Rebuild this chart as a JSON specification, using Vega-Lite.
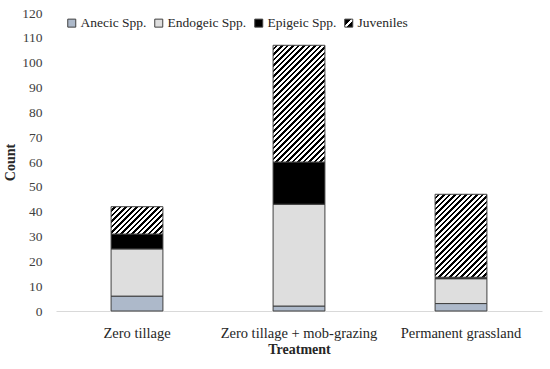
{
 "$schema": "https://vega.github.io/schema/vega-lite/v6.json",
 "width": 486,
 "height": 298,
 "autosize": {"type": "none"},
 "padding": {"left": 56, "top": 13, "right": 8, "bottom": 58},
 "config": {"font": "Liberation Serif", "view": {"stroke": null},
  "axis": {"labelFont": "Liberation Serif", "titleFont": "Liberation Serif"},
  "legend": {"labelFont": "Liberation Serif", "titleFont": "Liberation Serif"}},
 "data": {"values": [
  {"treatment": "Zero tillage", "type": "Anecic Spp.", "ord": 1, "count": 6},
  {"treatment": "Zero tillage", "type": "Endogeic Spp.", "ord": 2, "count": 19},
  {"treatment": "Zero tillage", "type": "Epigeic Spp.", "ord": 3, "count": 6},
  {"treatment": "Zero tillage", "type": "Juveniles", "ord": 4, "count": 11},
  {"treatment": "Zero tillage + mob-grazing", "type": "Anecic Spp.", "ord": 1, "count": 2},
  {"treatment": "Zero tillage + mob-grazing", "type": "Endogeic Spp.", "ord": 2, "count": 41},
  {"treatment": "Zero tillage + mob-grazing", "type": "Epigeic Spp.", "ord": 3, "count": 17},
  {"treatment": "Zero tillage + mob-grazing", "type": "Juveniles", "ord": 4, "count": 47},
  {"treatment": "Permanent grassland", "type": "Anecic Spp.", "ord": 1, "count": 3},
  {"treatment": "Permanent grassland", "type": "Endogeic Spp.", "ord": 2, "count": 10},
  {"treatment": "Permanent grassland", "type": "Epigeic Spp.", "ord": 3, "count": 0.6},
  {"treatment": "Permanent grassland", "type": "Juveniles", "ord": 4, "count": 33.4}
 ]},
 "mark": {"type": "bar", "stroke": "#404040", "strokeWidth": 1},
 "encoding": {
  "x": {"field": "treatment", "type": "nominal",
   "sort": ["Zero tillage", "Zero tillage + mob-grazing", "Permanent grassland"],
   "scale": {"paddingInner": 0.68, "paddingOuter": 0.34},
   "axis": {"title": "Treatment", "labelAngle": 0, "labelFontSize": 14.5, "labelColor": "#262626", "ticks": false, "domainColor": "#d9d9d9", "labelPadding": 15, "titleFontSize": 14, "titleFontWeight": "bold", "titlePadding": 3, "titleColor": "#262626"}},
  "y": {"field": "count", "type": "quantitative", "stack": "zero",
   "scale": {"domain": [0, 120], "nice": false},
   "axis": {"title": "Count", "values": [0,10,20,30,40,50,60,70,80,90,100,110,120], "grid": false, "domain": false, "ticks": false, "labelPadding": 14, "labelFontSize": 13.5, "labelColor": "#404040", "titleFontSize": 14, "titleFontWeight": "bold", "titleColor": "#262626", "titlePadding": 4}},
  "order": {"field": "ord", "type": "quantitative"},
  "fill": {
   "condition": [
    {"test": "datum.type === 'Juveniles' && datum.treatment === 'Zero tillage'",
     "value": {"gradient": "linear", "x1": 0, "y1": 0, "x2": 1.329, "y2": 0.7, "stops": [
      {"offset": 0, "color": "#ffffff"},
      {"offset": 0.03125, "color": "#ffffff"}, {"offset": 0.03125, "color": "#000000"},
      {"offset": 0.0625, "color": "#000000"}, {"offset": 0.0625, "color": "#ffffff"},
      {"offset": 0.09375, "color": "#ffffff"}, {"offset": 0.09375, "color": "#000000"},
      {"offset": 0.125, "color": "#000000"}, {"offset": 0.125, "color": "#ffffff"},
      {"offset": 0.15625, "color": "#ffffff"}, {"offset": 0.15625, "color": "#000000"},
      {"offset": 0.1875, "color": "#000000"}, {"offset": 0.1875, "color": "#ffffff"},
      {"offset": 0.21875, "color": "#ffffff"}, {"offset": 0.21875, "color": "#000000"},
      {"offset": 0.25, "color": "#000000"}, {"offset": 0.25, "color": "#ffffff"},
      {"offset": 0.28125, "color": "#ffffff"}, {"offset": 0.28125, "color": "#000000"},
      {"offset": 0.3125, "color": "#000000"}, {"offset": 0.3125, "color": "#ffffff"},
      {"offset": 0.34375, "color": "#ffffff"}, {"offset": 0.34375, "color": "#000000"},
      {"offset": 0.375, "color": "#000000"}, {"offset": 0.375, "color": "#ffffff"},
      {"offset": 0.40625, "color": "#ffffff"}, {"offset": 0.40625, "color": "#000000"},
      {"offset": 0.4375, "color": "#000000"}, {"offset": 0.4375, "color": "#ffffff"},
      {"offset": 0.46875, "color": "#ffffff"}, {"offset": 0.46875, "color": "#000000"},
      {"offset": 0.5, "color": "#000000"}, {"offset": 0.5, "color": "#ffffff"},
      {"offset": 0.53125, "color": "#ffffff"}, {"offset": 0.53125, "color": "#000000"},
      {"offset": 0.5625, "color": "#000000"}, {"offset": 0.5625, "color": "#ffffff"},
      {"offset": 0.59375, "color": "#ffffff"}, {"offset": 0.59375, "color": "#000000"},
      {"offset": 0.625, "color": "#000000"}, {"offset": 0.625, "color": "#ffffff"},
      {"offset": 0.65625, "color": "#ffffff"}, {"offset": 0.65625, "color": "#000000"},
      {"offset": 0.6875, "color": "#000000"}, {"offset": 0.6875, "color": "#ffffff"},
      {"offset": 0.71875, "color": "#ffffff"}, {"offset": 0.71875, "color": "#000000"},
      {"offset": 0.75, "color": "#000000"}, {"offset": 0.75, "color": "#ffffff"},
      {"offset": 0.78125, "color": "#ffffff"}, {"offset": 0.78125, "color": "#000000"},
      {"offset": 0.8125, "color": "#000000"}, {"offset": 0.8125, "color": "#ffffff"},
      {"offset": 0.84375, "color": "#ffffff"}, {"offset": 0.84375, "color": "#000000"},
      {"offset": 0.875, "color": "#000000"}, {"offset": 0.875, "color": "#ffffff"},
      {"offset": 0.90625, "color": "#ffffff"}, {"offset": 0.90625, "color": "#000000"},
      {"offset": 0.9375, "color": "#000000"}, {"offset": 0.9375, "color": "#ffffff"},
      {"offset": 0.96875, "color": "#ffffff"}, {"offset": 0.96875, "color": "#000000"},
      {"offset": 1, "color": "#000000"}
     ]}},
    {"test": "datum.type === 'Juveniles' && datum.treatment === 'Zero tillage + mob-grazing'",
     "value": {"gradient": "linear", "x1": 0, "y1": 0, "x2": 0.5596, "y2": 1.2597, "stops": [
      {"offset": 0, "color": "#ffffff"},
      {"offset": 0.015625, "color": "#ffffff"}, {"offset": 0.015625, "color": "#000000"},
      {"offset": 0.03125, "color": "#000000"}, {"offset": 0.03125, "color": "#ffffff"},
      {"offset": 0.046875, "color": "#ffffff"}, {"offset": 0.046875, "color": "#000000"},
      {"offset": 0.0625, "color": "#000000"}, {"offset": 0.0625, "color": "#ffffff"},
      {"offset": 0.078125, "color": "#ffffff"}, {"offset": 0.078125, "color": "#000000"},
      {"offset": 0.09375, "color": "#000000"}, {"offset": 0.09375, "color": "#ffffff"},
      {"offset": 0.109375, "color": "#ffffff"}, {"offset": 0.109375, "color": "#000000"},
      {"offset": 0.125, "color": "#000000"}, {"offset": 0.125, "color": "#ffffff"},
      {"offset": 0.140625, "color": "#ffffff"}, {"offset": 0.140625, "color": "#000000"},
      {"offset": 0.15625, "color": "#000000"}, {"offset": 0.15625, "color": "#ffffff"},
      {"offset": 0.171875, "color": "#ffffff"}, {"offset": 0.171875, "color": "#000000"},
      {"offset": 0.1875, "color": "#000000"}, {"offset": 0.1875, "color": "#ffffff"},
      {"offset": 0.203125, "color": "#ffffff"}, {"offset": 0.203125, "color": "#000000"},
      {"offset": 0.21875, "color": "#000000"}, {"offset": 0.21875, "color": "#ffffff"},
      {"offset": 0.234375, "color": "#ffffff"}, {"offset": 0.234375, "color": "#000000"},
      {"offset": 0.25, "color": "#000000"}, {"offset": 0.25, "color": "#ffffff"},
      {"offset": 0.265625, "color": "#ffffff"}, {"offset": 0.265625, "color": "#000000"},
      {"offset": 0.28125, "color": "#000000"}, {"offset": 0.28125, "color": "#ffffff"},
      {"offset": 0.296875, "color": "#ffffff"}, {"offset": 0.296875, "color": "#000000"},
      {"offset": 0.3125, "color": "#000000"}, {"offset": 0.3125, "color": "#ffffff"},
      {"offset": 0.328125, "color": "#ffffff"}, {"offset": 0.328125, "color": "#000000"},
      {"offset": 0.34375, "color": "#000000"}, {"offset": 0.34375, "color": "#ffffff"},
      {"offset": 0.359375, "color": "#ffffff"}, {"offset": 0.359375, "color": "#000000"},
      {"offset": 0.375, "color": "#000000"}, {"offset": 0.375, "color": "#ffffff"},
      {"offset": 0.390625, "color": "#ffffff"}, {"offset": 0.390625, "color": "#000000"},
      {"offset": 0.40625, "color": "#000000"}, {"offset": 0.40625, "color": "#ffffff"},
      {"offset": 0.421875, "color": "#ffffff"}, {"offset": 0.421875, "color": "#000000"},
      {"offset": 0.4375, "color": "#000000"}, {"offset": 0.4375, "color": "#ffffff"},
      {"offset": 0.453125, "color": "#ffffff"}, {"offset": 0.453125, "color": "#000000"},
      {"offset": 0.46875, "color": "#000000"}, {"offset": 0.46875, "color": "#ffffff"},
      {"offset": 0.484375, "color": "#ffffff"}, {"offset": 0.484375, "color": "#000000"},
      {"offset": 0.5, "color": "#000000"}, {"offset": 0.5, "color": "#ffffff"},
      {"offset": 0.515625, "color": "#ffffff"}, {"offset": 0.515625, "color": "#000000"},
      {"offset": 0.53125, "color": "#000000"}, {"offset": 0.53125, "color": "#ffffff"},
      {"offset": 0.546875, "color": "#ffffff"}, {"offset": 0.546875, "color": "#000000"},
      {"offset": 0.5625, "color": "#000000"}, {"offset": 0.5625, "color": "#ffffff"},
      {"offset": 0.578125, "color": "#ffffff"}, {"offset": 0.578125, "color": "#000000"},
      {"offset": 0.59375, "color": "#000000"}, {"offset": 0.59375, "color": "#ffffff"},
      {"offset": 0.609375, "color": "#ffffff"}, {"offset": 0.609375, "color": "#000000"},
      {"offset": 0.625, "color": "#000000"}, {"offset": 0.625, "color": "#ffffff"},
      {"offset": 0.640625, "color": "#ffffff"}, {"offset": 0.640625, "color": "#000000"},
      {"offset": 0.65625, "color": "#000000"}, {"offset": 0.65625, "color": "#ffffff"},
      {"offset": 0.671875, "color": "#ffffff"}, {"offset": 0.671875, "color": "#000000"},
      {"offset": 0.6875, "color": "#000000"}, {"offset": 0.6875, "color": "#ffffff"},
      {"offset": 0.703125, "color": "#ffffff"}, {"offset": 0.703125, "color": "#000000"},
      {"offset": 0.71875, "color": "#000000"}, {"offset": 0.71875, "color": "#ffffff"},
      {"offset": 0.734375, "color": "#ffffff"}, {"offset": 0.734375, "color": "#000000"},
      {"offset": 0.75, "color": "#000000"}, {"offset": 0.75, "color": "#ffffff"},
      {"offset": 0.765625, "color": "#ffffff"}, {"offset": 0.765625, "color": "#000000"},
      {"offset": 0.78125, "color": "#000000"}, {"offset": 0.78125, "color": "#ffffff"},
      {"offset": 0.796875, "color": "#ffffff"}, {"offset": 0.796875, "color": "#000000"},
      {"offset": 0.8125, "color": "#000000"}, {"offset": 0.8125, "color": "#ffffff"},
      {"offset": 0.828125, "color": "#ffffff"}, {"offset": 0.828125, "color": "#000000"},
      {"offset": 0.84375, "color": "#000000"}, {"offset": 0.84375, "color": "#ffffff"},
      {"offset": 0.859375, "color": "#ffffff"}, {"offset": 0.859375, "color": "#000000"},
      {"offset": 0.875, "color": "#000000"}, {"offset": 0.875, "color": "#ffffff"},
      {"offset": 0.890625, "color": "#ffffff"}, {"offset": 0.890625, "color": "#000000"},
      {"offset": 0.90625, "color": "#000000"}, {"offset": 0.90625, "color": "#ffffff"},
      {"offset": 0.921875, "color": "#ffffff"}, {"offset": 0.921875, "color": "#000000"},
      {"offset": 0.9375, "color": "#000000"}, {"offset": 0.9375, "color": "#ffffff"},
      {"offset": 0.953125, "color": "#ffffff"}, {"offset": 0.953125, "color": "#000000"},
      {"offset": 0.96875, "color": "#000000"}, {"offset": 0.96875, "color": "#ffffff"},
      {"offset": 0.984375, "color": "#ffffff"}, {"offset": 0.984375, "color": "#000000"},
      {"offset": 1, "color": "#000000"}
     ]}},
    {"test": "datum.type === 'Juveniles' && datum.treatment === 'Permanent grassland'",
     "value": {"gradient": "linear", "x1": 0, "y1": 0, "x2": 0.7456, "y2": 1.1924, "stops": [
      {"offset": 0, "color": "#ffffff"},
      {"offset": 0.02, "color": "#ffffff"}, {"offset": 0.02, "color": "#000000"},
      {"offset": 0.04, "color": "#000000"}, {"offset": 0.04, "color": "#ffffff"},
      {"offset": 0.06, "color": "#ffffff"}, {"offset": 0.06, "color": "#000000"},
      {"offset": 0.08, "color": "#000000"}, {"offset": 0.08, "color": "#ffffff"},
      {"offset": 0.1, "color": "#ffffff"}, {"offset": 0.1, "color": "#000000"},
      {"offset": 0.12, "color": "#000000"}, {"offset": 0.12, "color": "#ffffff"},
      {"offset": 0.14, "color": "#ffffff"}, {"offset": 0.14, "color": "#000000"},
      {"offset": 0.16, "color": "#000000"}, {"offset": 0.16, "color": "#ffffff"},
      {"offset": 0.18, "color": "#ffffff"}, {"offset": 0.18, "color": "#000000"},
      {"offset": 0.2, "color": "#000000"}, {"offset": 0.2, "color": "#ffffff"},
      {"offset": 0.22, "color": "#ffffff"}, {"offset": 0.22, "color": "#000000"},
      {"offset": 0.24, "color": "#000000"}, {"offset": 0.24, "color": "#ffffff"},
      {"offset": 0.26, "color": "#ffffff"}, {"offset": 0.26, "color": "#000000"},
      {"offset": 0.28, "color": "#000000"}, {"offset": 0.28, "color": "#ffffff"},
      {"offset": 0.3, "color": "#ffffff"}, {"offset": 0.3, "color": "#000000"},
      {"offset": 0.32, "color": "#000000"}, {"offset": 0.32, "color": "#ffffff"},
      {"offset": 0.34, "color": "#ffffff"}, {"offset": 0.34, "color": "#000000"},
      {"offset": 0.36, "color": "#000000"}, {"offset": 0.36, "color": "#ffffff"},
      {"offset": 0.38, "color": "#ffffff"}, {"offset": 0.38, "color": "#000000"},
      {"offset": 0.4, "color": "#000000"}, {"offset": 0.4, "color": "#ffffff"},
      {"offset": 0.42, "color": "#ffffff"}, {"offset": 0.42, "color": "#000000"},
      {"offset": 0.44, "color": "#000000"}, {"offset": 0.44, "color": "#ffffff"},
      {"offset": 0.46, "color": "#ffffff"}, {"offset": 0.46, "color": "#000000"},
      {"offset": 0.48, "color": "#000000"}, {"offset": 0.48, "color": "#ffffff"},
      {"offset": 0.5, "color": "#ffffff"}, {"offset": 0.5, "color": "#000000"},
      {"offset": 0.52, "color": "#000000"}, {"offset": 0.52, "color": "#ffffff"},
      {"offset": 0.54, "color": "#ffffff"}, {"offset": 0.54, "color": "#000000"},
      {"offset": 0.56, "color": "#000000"}, {"offset": 0.56, "color": "#ffffff"},
      {"offset": 0.58, "color": "#ffffff"}, {"offset": 0.58, "color": "#000000"},
      {"offset": 0.6, "color": "#000000"}, {"offset": 0.6, "color": "#ffffff"},
      {"offset": 0.62, "color": "#ffffff"}, {"offset": 0.62, "color": "#000000"},
      {"offset": 0.64, "color": "#000000"}, {"offset": 0.64, "color": "#ffffff"},
      {"offset": 0.66, "color": "#ffffff"}, {"offset": 0.66, "color": "#000000"},
      {"offset": 0.68, "color": "#000000"}, {"offset": 0.68, "color": "#ffffff"},
      {"offset": 0.7, "color": "#ffffff"}, {"offset": 0.7, "color": "#000000"},
      {"offset": 0.72, "color": "#000000"}, {"offset": 0.72, "color": "#ffffff"},
      {"offset": 0.74, "color": "#ffffff"}, {"offset": 0.74, "color": "#000000"},
      {"offset": 0.76, "color": "#000000"}, {"offset": 0.76, "color": "#ffffff"},
      {"offset": 0.78, "color": "#ffffff"}, {"offset": 0.78, "color": "#000000"},
      {"offset": 0.8, "color": "#000000"}, {"offset": 0.8, "color": "#ffffff"},
      {"offset": 0.82, "color": "#ffffff"}, {"offset": 0.82, "color": "#000000"},
      {"offset": 0.84, "color": "#000000"}, {"offset": 0.84, "color": "#ffffff"},
      {"offset": 0.86, "color": "#ffffff"}, {"offset": 0.86, "color": "#000000"},
      {"offset": 0.88, "color": "#000000"}, {"offset": 0.88, "color": "#ffffff"},
      {"offset": 0.9, "color": "#ffffff"}, {"offset": 0.9, "color": "#000000"},
      {"offset": 0.92, "color": "#000000"}, {"offset": 0.92, "color": "#ffffff"},
      {"offset": 0.94, "color": "#ffffff"}, {"offset": 0.94, "color": "#000000"},
      {"offset": 0.96, "color": "#000000"}, {"offset": 0.96, "color": "#ffffff"},
      {"offset": 0.98, "color": "#ffffff"}, {"offset": 0.98, "color": "#000000"},
      {"offset": 1, "color": "#000000"}
     ]}}
   ],
   "field": "type", "type": "nominal",
   "scale": {"domain": ["Anecic Spp.", "Endogeic Spp.", "Epigeic Spp.", "Juveniles"],
    "range": ["#adb9ca", "#dedede", "#000000",
     {"expr": "{gradient: 'linear', x1: 0, y1: 0, x2: 1, y2: 1, stops: [{offset: 0, color: '#000000'}, {offset: 0.42, color: '#000000'}, {offset: 0.42, color: '#ffffff'}, {offset: 0.58, color: '#ffffff'}, {offset: 0.58, color: '#000000'}, {offset: 1, color: '#000000'}]}"}]},
   "legend": {"title": null, "orient": "none", "direction": "horizontal", "columns": 4, "legendX": 9, "legendY": 3, "padding": 0, "symbolType": "square", "symbolSize": 64, "symbolStrokeColor": "#404040", "symbolStrokeWidth": 1, "labelFont": "Liberation Serif", "labelFontSize": 13.5, "labelColor": "#262626", "labelOffset": 2, "columnPadding": 5,
    "encoding": {"symbols": {
     "stroke": {"value": "#404040"},
     "strokeWidth": {"value": 1}
    }}}
  }
 }
}
